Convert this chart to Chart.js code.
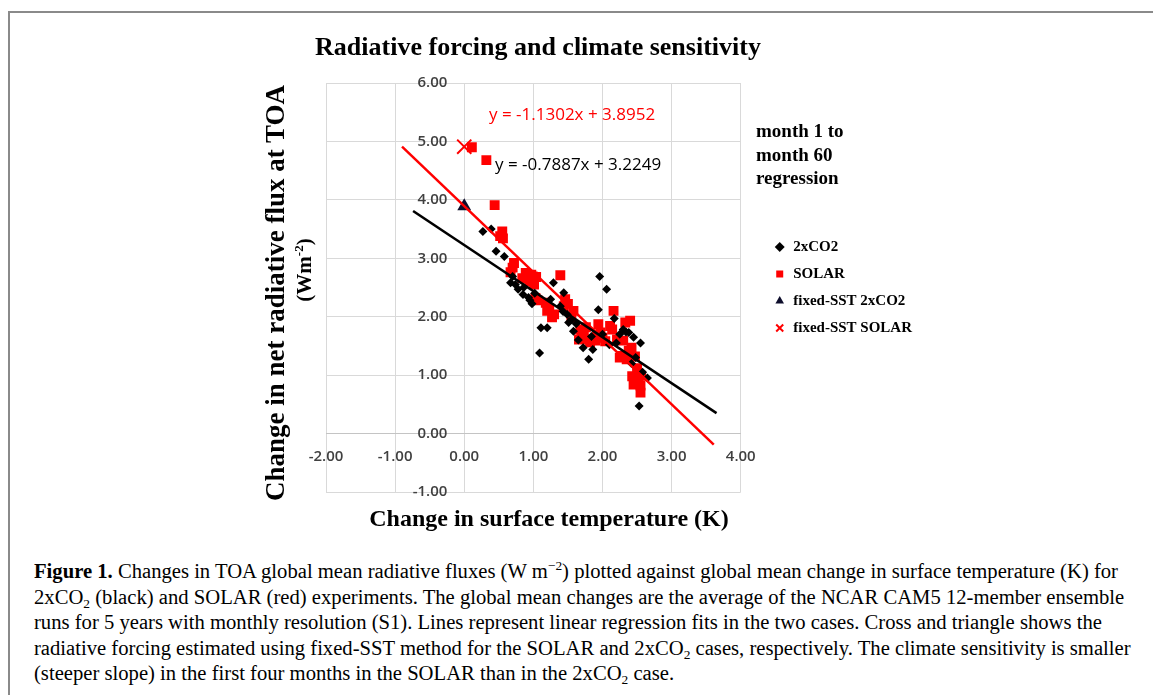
<!DOCTYPE html>
<html>
<head>
<meta charset="utf-8">
<script src="https://cdn.jsdelivr.net/npm/chart.js"></script>
<style>
    body { margin: 0; width: 1153px; height: 695px; overflow: hidden; background: #fff; position: relative; font-family: "Liberation Serif", "Times New Roman", serif; color: #000; }
    #frame { position: absolute; left: 8px; top: 11px; width: 1200px; height: 800px; border-left: 2px solid #8a8a8a; border-top: 2px solid #8a8a8a; }
    #wrap { position: absolute; left: 0; top: 0; width: 1153px; height: 540px; }
    .t { position: absolute; white-space: nowrap; }
    .bold { font-weight: bold; }
    .title { left: 538px; top: 47px; transform: translate(-50%, -50%); font-size: 26px; }
    .xtitle { left: 549px; top: 518px; transform: translate(-50%, -50%); font-size: 24px; }
    .ytitle { left: 275px; top: 293px; transform: translate(-50%, -50%) rotate(-90deg); font-size: 27px; }
    .yunit { left: 304px; top: 270px; transform: translate(-50%, -50%) rotate(-90deg); font-size: 21px; }
    .note { left: 756px; top: 119px; font-size: 19px; line-height: 23.5px; }
    .eq { font-family: "Open Sans", sans-serif; font-size: 17px; transform: translateY(-50%); }
    .caption { position: absolute; left: 34px; top: 559px; font-size: 20px; line-height: 25.5px; transform-origin: 0 0; }
    .caption div { white-space: nowrap; }
    .caption sub, .caption sup { font-size: 13px; line-height: 0; }
    .caption sub { vertical-align: -4px; }
    .caption sup { vertical-align: 8px; }
</style>
</head>
<body>
<div id="frame"></div>
<div id="wrap"><canvas id="chart"></canvas></div>

<div class="t bold title">Radiative forcing and climate sensitivity</div>
<div class="t bold ytitle">Change in net radiative flux at TOA</div>
<div class="t bold yunit">(Wm<sup style="font-size:13px">-2</sup>)</div>
<div class="t bold xtitle">Change in surface temperature (K)</div>
<div class="t bold note">month 1 to<br>month 60<br>regression</div>
<div class="t eq" style="left:489px; top:113px; color:#ff0000;">y = -1.1302x + 3.8952</div>
<div class="t eq" style="left:495px; top:163px; color:#000;">y = -0.7887x + 3.2249</div>

<div class="caption" id="caption">
    <div id="capFirst"><b>Figure 1.</b> Changes in TOA global mean radiative fluxes (W m<sup>−2</sup>) plotted against global mean change in surface temperature (K) for</div>
    <div>2xCO<sub>2</sub> (black) and SOLAR (red) experiments. The global mean changes are the average of the NCAR CAM5 12-member ensemble</div>
    <div>runs for 5 years with monthly resolution (S1). Lines represent linear regression fits in the two cases. Cross and triangle shows the</div>
    <div>radiative forcing estimated using fixed-SST method for the SOLAR and 2xCO<sub>2</sub> cases, respectively. The climate sensitivity is smaller</div>
    <div>(steeper slope) in the first four months in the SOLAR than in the 2xCO<sub>2</sub> case.</div>
</div>

<script>
// axis ticks
const xTickValues = [-2, -1, 0, 1, 2, 3, 4];
const xTickLabels = ['-2.00', '-1.00', '0.00', '1.00', '2.00', '3.00', '4.00'];
const yTickValues = [-1, 0, 1, 2, 3, 4, 5, 6];
const yTickLabels = ['-1.00', '0.00', '1.00', '2.00', '3.00', '4.00', '5.00', '6.00'];

// 2xCO2 monthly points (surface temperature change, TOA flux change)
const co2X = [0.27, 0.39, 0.46, 0.58, 0.67, 0.70, 0.78, 0.74, 0.93, 0.95, 0.98, 0.86, 1.09, 1.11, 1.20, 1.29, 1.44, 1.39, 1.43, 1.49,
              1.51, 1.58, 1.62, 1.72, 1.80, 1.86, 1.84, 1.96, 2.06, 1.94, 2.17, 2.30, 2.34, 2.38, 2.45, 2.55, 2.53, 2.65, 2.20, 2.42,
              1.02, 1.25, 1.65, 2.00, 2.10, 2.48, 2.58, 0.85, 1.55, 2.25];
const co2Y = [3.46, 3.50, 3.12, 3.03, 2.58, 2.69, 2.47, 2.55, 2.33, 2.28, 2.22, 2.50, 1.38, 1.81, 1.81, 2.58, 2.41, 2.18, 2.09, 2.04,
              1.90, 1.75, 1.88, 1.47, 1.27, 1.44, 1.66, 2.69, 2.47, 2.12, 1.97, 1.78, 1.74, 1.73, 1.65, 1.55, 0.47, 0.95, 1.55, 1.20,
              2.40, 2.30, 1.60, 1.70, 1.52, 1.30, 1.05, 2.38, 1.95, 1.70];

// SOLAR monthly points
const solarX = [0.11, 0.32, 0.44, 0.55, 0.52, 0.56, 0.72, 0.70, 0.67, 0.89, 0.84, 0.94, 0.99, 1.01, 0.97, 1.04, 1.39, 1.03, 1.06, 1.18,
                1.20, 1.23, 1.30, 1.27, 1.46, 1.44, 1.50, 1.58, 1.55, 1.68, 1.73, 1.66, 1.78, 1.82, 1.70, 1.76, 1.90, 1.94, 1.97, 1.92,
                2.00, 2.04, 2.11, 2.16, 2.14, 2.21, 2.30, 2.33, 2.40, 2.25, 2.35, 2.28, 2.42, 2.47, 2.50, 2.43, 2.45, 2.55, 2.52, 2.55,
                2.56, 2.38];
const solarY = [4.90, 4.68, 3.91, 3.46, 3.38, 3.34, 2.92, 2.84, 2.76, 2.75, 2.66, 2.60, 2.69, 2.55, 2.72, 2.68, 2.71, 2.32, 2.28, 2.24,
                2.10, 2.14, 2.04, 1.99, 2.30, 2.18, 2.22, 2.10, 1.98, 1.78, 1.70, 1.61, 1.61, 1.56, 1.68, 1.82, 1.59, 1.87, 1.73, 1.67,
                1.64, 1.58, 1.84, 2.10, 1.78, 1.61, 1.59, 1.90, 1.93, 1.30, 1.27, 1.33, 1.47, 1.32, 1.12, 0.98, 0.84, 0.82, 0.90, 0.70,
                0.99, 1.42];

// fixed-SST forcing estimates
const fixedCo2 = [0.00, 3.89];
const fixedSolar = [0.00, 4.91];

// regression line end points as drawn
const solarFitX = [-0.90, 3.61];
const solarFitY = [4.91, -0.19];
const co2FitX = [-0.74, 3.65];
const co2FitY = [3.81, 0.35];

const legendNames = ['2xCO2', 'SOLAR', 'fixed-SST 2xCO2', 'fixed-SST SOLAR'];

function toPoints(xs, ys) {
    return xs.map((x, i) => ({ x: x, y: ys[i] }));
}

// legend sits further right of the plot than Chart.js puts it
const legendOffset = {
    id: 'legendOffset',
    afterLayout(chart) {
        chart.legend.left += 21;
        chart.legend.right += 21;
    }
};

const tickFont = { family: '"Open Sans", sans-serif', size: 15, weight: '600' };

const ctx = document.getElementById('chart').getContext('2d');
new Chart(ctx, {
    type: 'scatter',
    data: {
        datasets: [
            {
                label: legendNames[0],
                data: toPoints(co2X, co2Y),
                pointStyle: 'rectRot',
                pointRadius: 4.5,
                backgroundColor: '#000',
                borderColor: '#000',
                borderWidth: 0,
                order: 3
            },
            {
                label: legendNames[1],
                data: toPoints(solarX, solarY),
                pointStyle: 'rect',
                pointRadius: 7,
                backgroundColor: '#ff0000',
                borderColor: '#ff0000',
                borderWidth: 0,
                order: 4
            },
            {
                label: legendNames[2],
                data: [{ x: fixedCo2[0], y: fixedCo2[1] }],
                pointStyle: 'triangle',
                pointRadius: 8,
                backgroundColor: '#0d0d2b',
                borderColor: '#0d0d2b',
                borderWidth: 0,
                order: 2
            },
            {
                label: legendNames[3],
                data: [{ x: fixedSolar[0], y: fixedSolar[1] }],
                pointStyle: 'crossRot',
                pointRadius: 10,
                backgroundColor: '#ff0000',
                borderColor: '#ff0000',
                borderWidth: 2,
                order: 2
            },
            {
                label: 'SOLAR fit',
                type: 'line',
                data: toPoints(solarFitX, solarFitY),
                borderColor: '#ff0000',
                borderWidth: 2.5,
                pointRadius: 0,
                fill: false,
                order: 1
            },
            {
                label: '2xCO2 fit',
                type: 'line',
                data: toPoints(co2FitX, co2FitY),
                borderColor: '#000',
                borderWidth: 2.5,
                pointRadius: 0,
                fill: false,
                order: 0
            }
        ]
    },
    options: {
        responsive: true,
        maintainAspectRatio: false,
        animation: false,
        layout: {
            padding: { left: 326, top: 83, right: 252, bottom: 48 }
        },
        plugins: {
            title: { display: false },
            tooltip: { enabled: false },
            legend: {
                position: 'right',
                maxWidth: 220,
                labels: {
                    usePointStyle: true,
                    boxWidth: 12,
                    boxHeight: 7,
                    padding: 12,
                    color: '#000',
                    font: { family: '"Liberation Serif", serif', size: 15, weight: 'bold' },
                    filter: item => item.datasetIndex < 4,
                    sort: (a, b) => a.datasetIndex - b.datasetIndex
                }
            }
        },
        scales: {
            x: {
                type: 'linear',
                position: { y: 0 },
                min: -2,
                max: 4,
                afterBuildTicks: scale => { scale.ticks = xTickValues.map(v => ({ value: v })); },
                ticks: {
                    padding: 14,
                    color: '#404040',
                    font: tickFont,
                    callback: (value, i) => xTickLabels[i]
                },
                grid: { color: '#d9d9d9', lineWidth: 1, drawTicks: false },
                border: { color: '#c4c4c4', width: 1 }
            },
            y: {
                type: 'linear',
                // labels end a little left of the x = 0 line
                position: { x: -0.245 },
                min: -1,
                max: 6,
                afterBuildTicks: scale => { scale.ticks = yTickValues.map(v => ({ value: v })); },
                ticks: {
                    padding: 0,
                    color: '#404040',
                    font: tickFont,
                    callback: (value, i) => yTickLabels[i]
                },
                grid: { color: '#d9d9d9', lineWidth: 1, drawTicks: false },
                border: { display: false }
            }
        }
    },
    plugins: [legendOffset]
});

// squeeze the caption to the width of the printed column
const caption = document.getElementById('caption');
const firstLine = document.getElementById('capFirst');
const range = document.createRange();
range.selectNodeContents(firstLine);
const naturalWidth = range.getBoundingClientRect().width;
caption.style.transform = 'scaleX(' + (1084 / naturalWidth) + ')';
</script>
</body>
</html>
